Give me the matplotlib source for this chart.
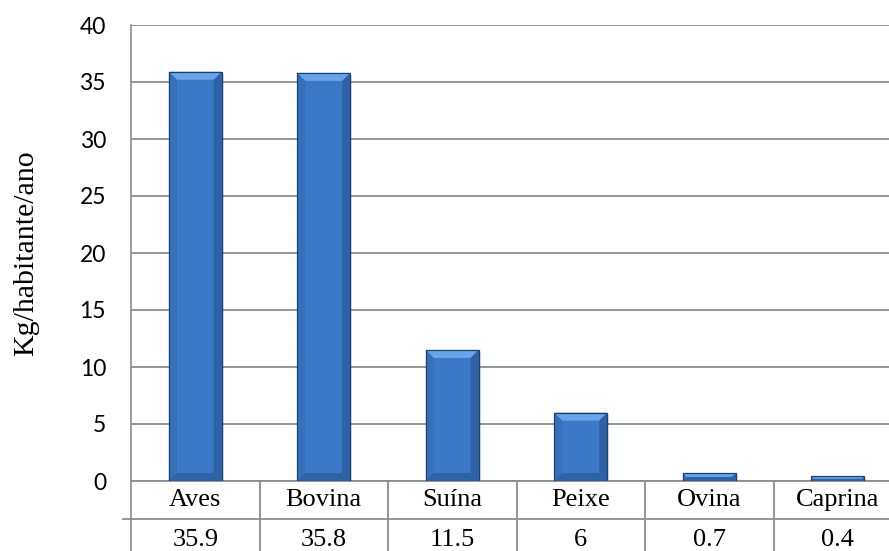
import numpy as np
import matplotlib
matplotlib.use("Agg")
import matplotlib.pyplot as plt
from matplotlib.patches import Rectangle, Polygon
from matplotlib.lines import Line2D

# consumo per capita de carnes
categorias = ["Aves", "Bovina", "Suína", "Peixe", "Ovina", "Caprina"]
consumo = [35.9, 35.8, 11.5, 6, 0.7, 0.4]
rotulos = ["35.9", "35.8", "11.5", "6", "0.7", "0.4"]
yticks = [0, 5, 10, 15, 20, 25, 30, 35, 40]

W, H = 889, 551
fig = plt.figure(figsize=(W / 100, H / 100), dpi=100)
# eixo em pixels: esquerda 131, topo 25, zero em 481, direita além da borda (902)
x0, x1, ytop, ybot = 131, 902, 25, 481
ax = fig.add_axes([x0 / W, (H - ybot) / H, (x1 - x0) / W, (ybot - ytop) / H])

n = len(categorias)
ax.set_xlim(-0.5, n - 0.5)
ax.set_ylim(0, 40)
ax.set_yticks(yticks)
ax.set_xticks([])
ax.tick_params(axis="y", length=0, pad=18)
for lab in ax.get_yticklabels():
    lab.set_fontfamily("Lato")
    lab.set_fontsize(16.5)
for s in ["top", "right", "bottom"]:
    ax.spines[s].set_visible(False)
ax.spines["left"].set_color("#8c8c8c")
ax.spines["left"].set_linewidth(1.2)
ax.grid(axis="y", color="#8c8c8c", lw=1.3)
ax.set_axisbelow(True)

ax.set_ylabel("Kg/habitante/ano", family="Liberation Serif", fontsize=21.5)
ax.yaxis.set_label_coords(-(x0 - 39) / (x1 - x0), 0.5)

# barras com efeito chanfrado
largura = 0.41
px_x = n / (x1 - x0)          # unidades de dados por pixel (x)
px_y = 40 / (ybot - ytop)     # unidades de dados por pixel (y)
for i, v in enumerate(consumo):
    l, r = i - largura / 2, i + largura / 2
    # sombra
    ax.add_patch(Rectangle((l + 2 * px_x, -2 * px_y), largura, v, fc="#000000",
                           alpha=0.10, ec="none", zorder=2))
    ax.add_patch(Rectangle((l, 0), largura, v, fc="#3b78c6", ec="none", zorder=3))
    bx = 8 * px_x
    by = min(8 * px_y, v / 2)
    if v / 2 < 8 * px_y:
        bx = bx * (v / 2) / (8 * px_y)
    topo = [(l, v), (r, v), (r - bx, v - by), (l + bx, v - by)]
    esq = [(l, 0), (l, v), (l + bx, v - by), (l + bx, by)]
    dir_ = [(r, 0), (r, v), (r - bx, v - by), (r - bx, by)]
    base = [(l, 0), (r, 0), (r - bx, by), (l + bx, by)]
    ax.add_patch(Polygon(esq, closed=True, fc="#3670b9", ec="none", zorder=3))
    ax.add_patch(Polygon(dir_, closed=True, fc="#2d62a6", ec="none", zorder=3))
    ax.add_patch(Polygon(base, closed=True, fc="#2e63a5", ec="none", zorder=3))
    ax.add_patch(Polygon(topo, closed=True, fc="#69a4e8", ec="none", zorder=3))
    ax.add_patch(Rectangle((l, 0), largura, v, fc="none", ec="#1d3f72", lw=0.9, zorder=4))

# tabela de dados abaixo do eixo
h_ax = ybot - ytop
linha_meio = -(519 - ybot) / h_ax
fundo = -(560 - ybot) / h_ax
trans = ax.get_xaxis_transform()
ax.add_line(Line2D([0, 1], [0, 0], transform=ax.transAxes, color="#8c8c8c",
                   lw=1.3, clip_on=False))
ax.add_line(Line2D([-(x0 - 123) / (x1 - x0), 1], [linha_meio, linha_meio],
                   transform=ax.transAxes, color="#8c8c8c", lw=1.3, clip_on=False))
ax.add_line(Line2D([0, 0], [0, fundo], transform=ax.transAxes, color="#8c8c8c",
                   lw=1.2, clip_on=False))
for i in range(n - 1):
    ax.add_line(Line2D([i + 0.5, i + 0.5], [0, fundo], transform=trans,
                       color="#8c8c8c", lw=1.3, clip_on=False))
for i in range(n):
    ax.text(i, -(500 - ybot) / h_ax, categorias[i], transform=trans, ha="center",
            va="center", family="Liberation Serif", fontsize=19)
    ax.text(i, -(540 - ybot) / h_ax, rotulos[i], transform=trans, ha="center",
            va="center", family="Liberation Serif", fontsize=19)

fig.savefig("out.png", dpi=100)
